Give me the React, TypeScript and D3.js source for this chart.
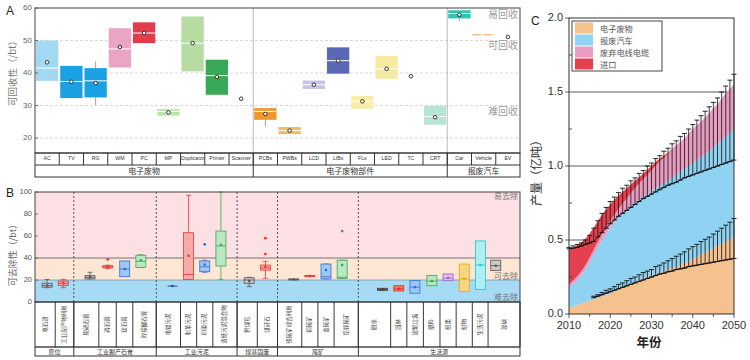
import React from 'react';
import * as d3 from 'd3';

const FONT = '"Liberation Sans", Arial, "Noto Sans CJK SC", sans-serif';
const CJK = '"Noto Sans CJK SC", "Liberation Sans", sans-serif';

// ---------------- Panel A data ----------------
const aCategories = ['AC', 'TV', 'RG', 'WM', 'PC', 'MP', 'Duplicator', 'Printer', 'Scanner', 'PCBs', 'PWBs', 'LCD', 'LIBs', 'FLs', 'LED', 'TC', 'CRT', 'Car', 'Vehicle', 'EV'];
const aGroupNames = ['电子废物', '电子废物部件', '报废汽车'];
const aGroupStarts = [0, 9, 17, 20];
const aQ1 = [37.6, 32.3, 32.5, 41.7, 49.2, 26.9, 40.5, 33.3, null, 25.6, 21.2, 35.1, 39.8, 29.0, 38.2, null, 24.1, 56.8, 51.75, null];
const aQ3 = [50.0, 42.2, 41.5, 53.8, 55.6, 28.9, 57.4, 44.1, null, 29.2, 23.4, 37.7, 47.9, 33.0, 45.3, null, 29.9, 59.3, 51.75, null];
const aMedian = [41.5, 37.4, 37.6, 47.4, 52.3, 28.2, 49.2, 39.2, null, 28.2, 22.3, 36.4, 43.8, 31.3, 41.3, null, 26.6, 58.3, null, null];
const aMean = [43.3, 37.3, 36.9, 48.0, 52.3, 27.9, 49.2, 38.8, 32.1, 27.4, 22.3, 36.4, 43.8, 31.3, 41.3, 39.0, 26.4, 57.9, null, 51.1];
const aWhiskLow = [null, null, 30.2, null, null, null, null, null, null, 23.6, null, null, null, null, null, null, null, 55.9, null, null];
const aWhiskHigh = [null, null, 43.6, null, null, null, null, null, null, null, null, null, null, null, null, null, null, null, null, null];
const aColors = ['#a3d8f2', '#1ba1e2', '#1ba1e2', '#eba4c4', '#e23b4b', '#b8e4aa', '#b6dca2', '#3aa957', '#999999', '#f0962a', '#f7b865', '#c9c3e6', '#5a68b5', '#f8eea8', '#f6e9a2', '#999999', '#b5e6d4', '#2ec4b0', '#f0a050', '#999999'];
const aGrid = [20, 30, 40, 50];
const aTicks = [20, 30, 40, 50, 60];
const aZoneLabels = ['易回收', '可回收', '难回收'];
const aZoneValues = [57.9, 48.1, 27.8];

// ---------------- Panel B data ----------------
const bLabels = ['电石渣', '工业副产物利用', '脱硫石膏', '磷石膏', '钛石膏', '柠檬酸石膏', '电镀污泥', '制革污泥', '印染污泥', '造纸污泥混合物', '粉煤灰', '煤矸石', '铁尾矿综合利用', '铜尾矿', '金尾矿', '铅锌尾矿', '厨余', '园林', '建筑垃圾', '塑料', '纸类', '织物', '生活污泥', '玻璃'];
const bPositions = [0.75, 1.75, 3.4, 4.5, 5.55, 6.55, 8.5, 9.5, 10.5, 11.5, 13.25, 14.25, 16, 17, 18, 19, 21.5, 22.5, 23.5, 24.55, 25.55, 26.55, 27.55, 28.5];
const bGroupNames = ['原位', '工业副产石膏', '工业污泥', '煤基固废', '尾矿', '生活源'];
const bGroupBounds = [0, 2.4, 7.5, 12.5, 15, 20, 30];
const bQ1 = [13.5, 15, 21, 31, 23, 31.5, 14.5, 20.6, 27.5, 32.7, 17, 29, 20, 23, 21, 21.5, 10.5, 10, 8, 14.8, 19.4, 9.4, 11.5, 28.5];
const bQ3 = [17, 19, 24, 33, 37.3, 42.5, 14.5, 63, 37.3, 64.5, 22, 33.6, 21, 24.2, 34.5, 38, 12.5, 14.8, 19.4, 24, 25.5, 34.5, 55.5, 38];
const bMedian = [15, 17, 22.5, 32, 30, 37, 14.5, 25, 32, 51, 20, 31, 20.5, 23.6, 23, 22.5, 11.5, 12, 13.5, 19, 21.5, 21, 33.6, 33];
const bMean = [15, 17, 22.5, 32, 30, 38, 14.5, 42, 34, 52, 19, 32, 20.5, 23.6, 29, 33.6, 11.5, 12, 13.5, 19, 22, 21, 33.6, 33];
const bLow = [13, 13, 21, 30.5, null, 31.5, null, 20.6, 27, 20.6, 14, 21.5, null, null, 21, 21.5, null, null, null, null, null, null, null, null];
const bHigh = [20.5, 20.5, 27, 33.5, null, 43, null, 97, 38, 100, 22.5, 37, null, null, 34.5, 38, null, null, null, null, null, null, null, null];
const bOutliers = [[], [], [], [38.8], [], [], [], [], [52.4], [], [], [43.6, 58], [], [], [], [64.5], [], [], [], [], [], [], [], []];
const bStyles = ['gray', 'red', 'gray', 'red', 'blue', 'green', 'navy', 'red', 'blue', 'green', 'gray', 'red', 'gray', 'red', 'blue', 'green', 'dark', 'orange', 'blue', 'green', 'purple', 'yellow', 'cyan', 'gray'];
const bPalette: Record<string, { fill: string; stroke: string }> = {
  gray: { fill: '#c9c9c9', stroke: '#555555' },
  dark: { fill: '#7a7a7a', stroke: '#444444' },
  red: { fill: '#f7aaaa', stroke: '#e53935' },
  orange: { fill: '#f47a5a', stroke: '#e0302a' },
  blue: { fill: '#a0c6f2', stroke: '#2f6fd6' },
  navy: { fill: '#33488f', stroke: '#33488f' },
  green: { fill: '#b9e8c2', stroke: '#3aa45a' },
  purple: { fill: '#dcc0f2', stroke: '#a060d0' },
  yellow: { fill: '#f7d67f', stroke: '#e0a820' },
  cyan: { fill: '#aef0f2', stroke: '#22c3d3' },
};
const bTicks = [0, 20, 40, 60, 80, 100];
const bZoneLabels = ['易去除', '可去除', '难去除'];
const bZoneValues = [95.5, 22.7, 3.6];

// ---------------- Panel C data ----------------
const cYears = [2010, 2012, 2014, 2016, 2018, 2020, 2022, 2024, 2026, 2028, 2030, 2032, 2034, 2036, 2038, 2040, 2042, 2044, 2046, 2048, 2050];
const cEwaste = [0.04, 0.06, 0.08, 0.10, 0.12, 0.14, 0.165, 0.19, 0.215, 0.24, 0.26, 0.28, 0.30, 0.32, 0.345, 0.37, 0.40, 0.43, 0.46, 0.49, 0.52];
const cCars = [0.14, 0.17, 0.22, 0.30, 0.38, 0.44, 0.485, 0.51, 0.535, 0.55, 0.57, 0.59, 0.60, 0.62, 0.635, 0.65, 0.66, 0.67, 0.69, 0.71, 0.73];
const cCables = [0.02, 0.025, 0.03, 0.035, 0.04, 0.05, 0.06, 0.08, 0.10, 0.12, 0.14, 0.16, 0.18, 0.20, 0.21, 0.23, 0.24, 0.26, 0.27, 0.29, 0.30];
const cImports = [0.23, 0.21, 0.18, 0.15, 0.13, 0.11, 0.09, 0.07, 0.05, 0.04, 0.03, 0.02, 0.01, 0, 0, 0, 0, 0, 0, 0, 0];
const cSeriesNames = ['电子废物', '报废汽车', '废弃电线电缆', '进口'];
const cColors = ['#f5c18e', '#8fd2f1', '#e79cc0', '#e5404f'];

const upYears = [2010, 2011, 2012, 2013, 2014, 2015, 2016, 2017, 2018, 2019, 2020, 2021, 2022, 2023, 2024, 2025, 2026, 2027, 2028, 2029, 2030, 2031, 2032, 2033, 2034, 2035, 2036, 2037, 2038, 2039, 2040, 2041, 2042, 2043, 2044, 2045, 2046, 2047, 2048, 2049, 2050];
const upLine = [0.44, 0.445, 0.45, 0.46, 0.47, 0.48, 0.49, 0.52, 0.55, 0.58, 0.61, 0.635, 0.66, 0.68, 0.70, 0.72, 0.74, 0.76, 0.78, 0.795, 0.81, 0.825, 0.84, 0.855, 0.87, 0.88, 0.89, 0.905, 0.92, 0.93, 0.94, 0.95, 0.96, 0.97, 0.98, 0.99, 1.0, 1.01, 1.02, 1.03, 1.04];
const upTop = [0.45, 0.46, 0.47, 0.48, 0.50, 0.53, 0.58, 0.63, 0.68, 0.72, 0.76, 0.79, 0.82, 0.85, 0.87, 0.90, 0.92, 0.95, 0.97, 1.0, 1.02, 1.05, 1.07, 1.10, 1.12, 1.15, 1.17, 1.20, 1.22, 1.25, 1.28, 1.31, 1.34, 1.37, 1.40, 1.43, 1.46, 1.50, 1.54, 1.58, 1.62];
const loYears = [2016, 2017, 2018, 2019, 2020, 2021, 2022, 2023, 2024, 2025, 2026, 2027, 2028, 2029, 2030, 2031, 2032, 2033, 2034, 2035, 2036, 2037, 2038, 2039, 2040, 2041, 2042, 2043, 2044, 2045, 2046, 2047, 2048, 2049, 2050];
const loLine = [0.11, 0.12, 0.13, 0.14, 0.15, 0.16, 0.17, 0.18, 0.19, 0.20, 0.21, 0.22, 0.23, 0.24, 0.25, 0.26, 0.27, 0.275, 0.285, 0.29, 0.30, 0.305, 0.31, 0.32, 0.325, 0.33, 0.335, 0.34, 0.345, 0.35, 0.355, 0.36, 0.365, 0.37, 0.375];
const loTop = [0.12, 0.13, 0.145, 0.16, 0.17, 0.185, 0.20, 0.21, 0.225, 0.24, 0.25, 0.265, 0.28, 0.29, 0.30, 0.32, 0.33, 0.345, 0.36, 0.375, 0.39, 0.405, 0.42, 0.44, 0.455, 0.47, 0.49, 0.505, 0.52, 0.54, 0.56, 0.58, 0.60, 0.62, 0.645];
const cYTicks = [0, 0.5, 1.0, 1.5, 2.0];
const cYMinor = [0.25, 0.75, 1.25, 1.75];
const cXTicks = [2010, 2020, 2030, 2040, 2050];
const cXMinor = [2015, 2025, 2035, 2045];

// ---------------- Layout ----------------
const A_L = 35, A_R = 520, A_T = 8, A_B = 153, A_ROW = 165, A_END = 177;
const B_L = 35, B_R = 520, B_T = 192, B_B = 302, B_ROW = 347, B_END = 356;
const C_L = 569, C_R = 734, C_T = 18, C_B = 314;

function PanelA() {
  const x = d3.scaleBand<string>().domain(aCategories).range([A_L, A_R]);
  const y = d3.scaleLinear().domain([15.4, 60]).range([A_B, A_T]);
  const bw = x.bandwidth();
  const boxW = bw * 0.92;
  const edges = aCategories.map((c) => x(c) as number);
  return (
    <g>
      <text x={6} y={15} fontSize={12} fill="#222">A</text>
      {aGrid.map((v) => (
        <line key={'g' + v} x1={A_L} x2={A_R} y1={y(v)} y2={y(v)} stroke="#cfcfcf" strokeDasharray="3,2" strokeWidth={0.8} />
      ))}
      {aGroupStarts.slice(1, -1).map((s) => (
        <line key={'gs' + s} x1={edges[s]} x2={edges[s]} y1={A_T} y2={A_B} stroke="#aaaaaa" strokeWidth={0.8} />
      ))}
      {aCategories.map((c, i) => {
        const cx = (x(c) as number) + bw / 2;
        const items: any[] = [];
        if (aWhiskLow[i] != null && aQ1[i] != null) {
          items.push(<line key="wl" x1={cx} x2={cx} y1={y(aQ1[i] as number)} y2={y(aWhiskLow[i] as number)} stroke="#888" strokeWidth={0.8} />);
        }
        if (aWhiskHigh[i] != null && aQ3[i] != null) {
          items.push(<line key="wh" x1={cx} x2={cx} y1={y(aQ3[i] as number)} y2={y(aWhiskHigh[i] as number)} stroke="#888" strokeWidth={0.8} />);
        }
        if (aQ1[i] != null && aQ3[i] != null) {
          const h = y(aQ1[i] as number) - y(aQ3[i] as number);
          if (h < 1) {
            items.push(<line key="ln" x1={cx - boxW / 2} x2={cx + boxW / 2} y1={y(aQ3[i] as number)} y2={y(aQ3[i] as number)} stroke={aColors[i]} strokeWidth={1} strokeDasharray="9,2" />);
          } else {
            items.push(<rect key="bx" x={cx - boxW / 2} y={y(aQ3[i] as number)} width={boxW} height={h} fill={aColors[i]} />);
          }
        }
        if (aMedian[i] != null) {
          items.push(<line key="md" x1={cx - boxW / 2} x2={cx + boxW / 2} y1={y(aMedian[i] as number)} y2={y(aMedian[i] as number)} stroke="#ffffff" strokeWidth={1} />);
        }
        if (aMean[i] != null) {
          items.push(<circle key="mn" cx={cx} cy={y(aMean[i] as number)} r={1.8} fill="#ffffff" stroke="#222" strokeWidth={0.9} />);
        }
        return <g key={c}>{items}</g>;
      })}
      {aZoneLabels.map((t, i) => (
        <text key={t} x={A_R - 2} y={y(aZoneValues[i])} fontSize={10} fill="#9a9a9a" textAnchor="end" dominantBaseline="middle" fontFamily={CJK}>{t}</text>
      ))}
      {aTicks.map((v) => (
        <g key={'t' + v}>
          <line x1={A_L} x2={A_L + 3} y1={y(v)} y2={y(v)} stroke="#555" strokeWidth={0.8} />
          <text x={A_L - 3} y={y(v)} fontSize={8} fill="#666" textAnchor="end" dominantBaseline="middle">{v}</text>
        </g>
      ))}
      <text transform={`translate(16,${71}) rotate(-90)`} fontSize={9.5} fill="#777" textAnchor="middle" fontFamily={CJK}>可回收性（/bt）</text>
      <rect x={A_L} y={A_T} width={A_R - A_L} height={A_B - A_T} fill="none" stroke="#444" strokeWidth={1} />
      {/* table */}
      <rect x={A_L} y={A_B} width={A_R - A_L} height={A_END - A_B} fill="none" stroke="#333" strokeWidth={1} />
      <line x1={A_L} x2={A_R} y1={A_ROW} y2={A_ROW} stroke="#333" strokeWidth={1} />
      {edges.slice(1).map((e, i) => (
        <line key={'e' + i} x1={e} x2={e} y1={A_B} y2={A_ROW} stroke="#222" strokeWidth={0.9} />
      ))}
      {aGroupStarts.slice(1, -1).map((s) => (
        <line key={'gt' + s} x1={edges[s]} x2={edges[s]} y1={A_B} y2={A_END} stroke="#333" strokeWidth={1} />
      ))}
      {aCategories.map((c) => (
        <text key={'l' + c} x={(x(c) as number) + bw / 2} y={(A_B + A_ROW) / 2} fontSize={5.2} fill="#333" textAnchor="middle" dominantBaseline="middle">{c}</text>
      ))}
      {aGroupNames.map((g, i) => {
        const x0 = i === 0 ? A_L : edges[aGroupStarts[i]];
        const x1 = aGroupStarts[i + 1] >= aCategories.length ? A_R : edges[aGroupStarts[i + 1]];
        return (
          <text key={g} x={(x0 + x1) / 2} y={(A_ROW + A_END) / 2 + 0.5} fontSize={8} fill="#333" textAnchor="middle" dominantBaseline="middle" fontFamily={CJK}>{g}</text>
        );
      })}
    </g>
  );
}

function PanelB() {
  const x = d3.scaleLinear().domain([0, 30]).range([B_L, B_R]);
  const y = d3.scaleLinear().domain([0, 100]).range([B_B, B_T]);
  const boxW = 10;
  const cap = 5;
  const cells = bPositions.map((p, i) => {
    const g = bGroupBounds.findIndex((b, k) => k > 0 && p < b) - 1;
    const prevSame = i > 0 && bPositions[i - 1] > bGroupBounds[g];
    const nextSame = i < bPositions.length - 1 && bPositions[i + 1] < bGroupBounds[g + 1];
    const left = prevSame ? (bPositions[i - 1] + p) / 2 : bGroupBounds[g];
    const right = nextSame ? (bPositions[i + 1] + p) / 2 : bGroupBounds[g + 1];
    return [left, right];
  });
  return (
    <g>
      <text x={6} y={197} fontSize={12} fill="#222">B</text>
      <rect x={B_L} y={y(100)} width={B_R - B_L} height={y(40) - y(100)} fill="#fde0e3" />
      <rect x={B_L} y={y(40)} width={B_R - B_L} height={y(20) - y(40)} fill="#fde6d4" />
      <rect x={B_L} y={y(20)} width={B_R - B_L} height={y(0) - y(20)} fill="#a6daf5" />
      <line x1={B_L} x2={B_R} y1={y(40)} y2={y(40)} stroke="#666" strokeWidth={0.9} />
      <line x1={B_L} x2={B_R} y1={y(20)} y2={y(20)} stroke="#777" strokeWidth={0.6} />
      {bGroupBounds.slice(1, -1).map((b) => (
        <line key={'gd' + b} x1={x(b)} x2={x(b)} y1={B_T} y2={B_B} stroke="#445" strokeWidth={0.9} strokeDasharray="2,2" />
      ))}
      {bPositions.map((p, i) => {
        const cx = x(p);
        const st = bPalette[bStyles[i]];
        const items: any[] = [];
        if (bLow[i] != null) {
          items.push(<line key="wl" x1={cx} x2={cx} y1={y(bQ1[i])} y2={y(bLow[i] as number)} stroke={st.stroke} strokeWidth={0.8} />);
          items.push(<line key="wlc" x1={cx - cap / 2} x2={cx + cap / 2} y1={y(bLow[i] as number)} y2={y(bLow[i] as number)} stroke={st.stroke} strokeWidth={0.8} />);
        }
        if (bHigh[i] != null) {
          items.push(<line key="wh" x1={cx} x2={cx} y1={y(bQ3[i])} y2={y(bHigh[i] as number)} stroke={st.stroke} strokeWidth={0.8} />);
          items.push(<line key="whc" x1={cx - cap / 2} x2={cx + cap / 2} y1={y(bHigh[i] as number)} y2={y(bHigh[i] as number)} stroke={st.stroke} strokeWidth={0.8} />);
        }
        const h = y(bQ1[i]) - y(bQ3[i]);
        if (h < 0.5) {
          items.push(<line key="bl" x1={cx - boxW / 2} x2={cx + boxW / 2} y1={y(bQ1[i])} y2={y(bQ1[i])} stroke={st.stroke} strokeWidth={1} />);
        } else {
          items.push(<rect key="bx" x={cx - boxW / 2} y={y(bQ3[i])} width={boxW} height={h} fill={st.fill} stroke={st.stroke} strokeWidth={0.8} />);
          items.push(<line key="md" x1={cx - boxW / 2} x2={cx + boxW / 2} y1={y(bMedian[i])} y2={y(bMedian[i])} stroke={st.stroke} strokeWidth={0.8} />);
        }
        items.push(<circle key="mn" cx={cx} cy={y(bMean[i])} r={1.3} fill={st.stroke} />);
        bOutliers[i].forEach((o, k) => {
          items.push(<circle key={'o' + k} cx={cx} cy={y(o)} r={1.4} fill={st.stroke} />);
        });
        return <g key={'b' + i}>{items}</g>;
      })}
      {bZoneLabels.map((t, i) => (
        <text key={t} x={B_R - 2} y={y(bZoneValues[i])} fontSize={8} fill="#777" textAnchor="end" dominantBaseline="middle" fontFamily={CJK}>{t}</text>
      ))}
      {bTicks.map((v) => (
        <g key={'bt' + v}>
          <line x1={B_L} x2={B_L + 3} y1={y(v)} y2={y(v)} stroke="#555" strokeWidth={0.8} />
          <text x={B_L - 3} y={y(v)} fontSize={7.5} fill="#555" textAnchor="end" dominantBaseline="middle">{v}</text>
        </g>
      ))}
      <text transform={`translate(16,${253}) rotate(-90)`} fontSize={9} fill="#666" textAnchor="middle" fontFamily={CJK}>可去除性（/bt）</text>
      <rect x={B_L} y={B_T} width={B_R - B_L} height={B_B - B_T} fill="none" stroke="#444" strokeWidth={1} />
      {/* table */}
      <rect x={B_L} y={B_B} width={B_R - B_L} height={B_END - B_B} fill="none" stroke="#333" strokeWidth={1} />
      <line x1={B_L} x2={B_R} y1={B_ROW} y2={B_ROW} stroke="#444" strokeWidth={1.6} />
      {cells.map((c, i) => (
        <line key={'ce' + i} x1={x(c[1])} x2={x(c[1])} y1={B_B} y2={B_ROW} stroke="#222" strokeWidth={0.9} />
      ))}
      {bGroupBounds.slice(1, -1).map((b) => (
        <line key={'gb' + b} x1={x(b)} x2={x(b)} y1={B_B} y2={B_END} stroke="#333" strokeWidth={1} />
      ))}
      {bLabels.map((l, i) => {
        const cx = x((cells[i][0] + cells[i][1]) / 2);
        const cy = (B_B + B_ROW) / 2;
        return (
          <text key={'bl' + i} transform={`translate(${cx},${cy}) rotate(-90)`} fontSize={5.5} fill="#444" textAnchor="middle" dominantBaseline="middle" fontFamily={CJK}>{l}</text>
        );
      })}
      {bGroupNames.map((g, i) => (
        <text key={g} x={x((bGroupBounds[i] + bGroupBounds[i + 1]) / 2)} y={(B_ROW + B_END) / 2 + 0.5} fontSize={6} fill="#333" textAnchor="middle" dominantBaseline="middle" fontFamily={CJK}>{g}</text>
      ))}
    </g>
  );
}

function PanelC() {
  const x = d3.scaleLinear().domain([2010, 2050]).range([C_L, C_R]);
  const y = d3.scaleLinear().domain([0, 2]).range([C_B, C_T]);
  const rows = cYears.map((yr, i) => ({ year: yr, s0: cEwaste[i], s1: cCars[i], s2: cCables[i], s3: cImports[i] }));
  const stack = d3.stack<any>().keys(['s0', 's1', 's2', 's3']);
  const layers = stack(rows);
  const area = d3.area<any>()
    .x((d) => x(d.data.year))
    .y0((d) => y(d[0]))
    .y1((d) => y(d[1]))
    .curve(d3.curveMonotoneX);
  const lineGen = d3.line<[number, number]>().x((d) => x(d[0])).y((d) => y(d[1]));
  const capW = 5;
  const bars = (years: number[], base: number[], top: number[], key: string) =>
    years.map((yr, i) => {
      const cx = x(yr);
      return (
        <g key={key + yr}>
          <line x1={cx} x2={cx} y1={y(base[i])} y2={y(top[i])} stroke="#111" strokeWidth={0.8} />
          <line x1={cx - capW / 2} x2={cx + capW / 2} y1={y(top[i])} y2={y(top[i])} stroke="#111" strokeWidth={0.9} />
          <line x1={cx - capW / 2} x2={cx + capW / 2} y1={y(base[i])} y2={y(base[i])} stroke="#111" strokeWidth={0.9} />
        </g>
      );
    });
  const rowH = 12;
  return (
    <g>
      <text x={531} y={25} fontSize={12} fill="#222">C</text>
      {cYTicks.slice(1, -1).map((v) => (
        <line key={'cg' + v} x1={C_L} x2={C_R} y1={y(v)} y2={y(v)} stroke="#333" strokeWidth={0.8} />
      ))}
      {layers.map((l, i) => (
        <path key={'ar' + i} d={area(l as any) || ''} fill={cColors[i]} />
      ))}
      <path d={lineGen(upYears.map((yr, i) => [yr, upLine[i]]) as any) || ''} fill="none" stroke="#111" strokeWidth={1} />
      <path d={lineGen(loYears.map((yr, i) => [yr, loLine[i]]) as any) || ''} fill="none" stroke="#111" strokeWidth={1} />
      {bars(upYears, upLine, upTop, 'u')}
      {bars(loYears, loLine, loTop, 'l')}
      <rect x={C_L} y={C_T} width={C_R - C_L} height={C_B - C_T} fill="none" stroke="#333" strokeWidth={1} />
      {cYTicks.map((v) => (
        <g key={'cy' + v}>
          <line x1={C_L - 4} x2={C_L} y1={y(v)} y2={y(v)} stroke="#333" strokeWidth={0.8} />
          <text x={C_L - 6} y={y(v)} fontSize={11} fill="#333" textAnchor="end" dominantBaseline="middle">{v.toFixed(1)}</text>
        </g>
      ))}
      {cYMinor.map((v) => (
        <line key={'cym' + v} x1={C_L} x2={C_L + 3} y1={y(v)} y2={y(v)} stroke="#333" strokeWidth={0.8} />
      ))}
      {cXTicks.map((v) => (
        <g key={'cx' + v}>
          <line x1={x(v)} x2={x(v)} y1={C_B} y2={C_B + 4} stroke="#333" strokeWidth={0.8} />
          <text x={x(v)} y={329} fontSize={11} fill="#333" textAnchor="middle">{v}</text>
        </g>
      ))}
      {cXMinor.map((v) => (
        <line key={'cxm' + v} x1={x(v)} x2={x(v)} y1={C_B} y2={C_B + 3} stroke="#333" strokeWidth={0.8} />
      ))}
      <text x={649} y={347} fontSize={12.5} fontWeight="bold" fill="#222" textAnchor="middle" fontFamily={CJK}>年份</text>
      <text transform={`translate(541,${170}) rotate(-90)`} fontSize={12} fill="#333" textAnchor="middle" fontFamily={CJK}>产量（亿吨）</text>
      {/* legend */}
      <rect x={572} y={21} width={90} height={4 * rowH + 2} fill="#ffffff" stroke="#333" strokeWidth={0.9} />
      {cSeriesNames.map((n, i) => (
        <g key={n}>
          <rect x={575} y={22.5 + i * rowH} width={18} height={11} fill={cColors[i]} />
          <text x={600} y={31.5 + i * rowH} fontSize={8.2} fill="#555" fontFamily={CJK}>{n}</text>
        </g>
      ))}
    </g>
  );
}

export default function App() {
  return (
    <svg width={750} height={360} style={{ position: 'absolute', left: 0, top: 0, background: '#ffffff' }} fontFamily={FONT}>
      <rect x={0} y={0} width={750} height={360} fill="#ffffff" />
      <PanelA />
      <PanelB />
      <PanelC />
    </svg>
  );
}
